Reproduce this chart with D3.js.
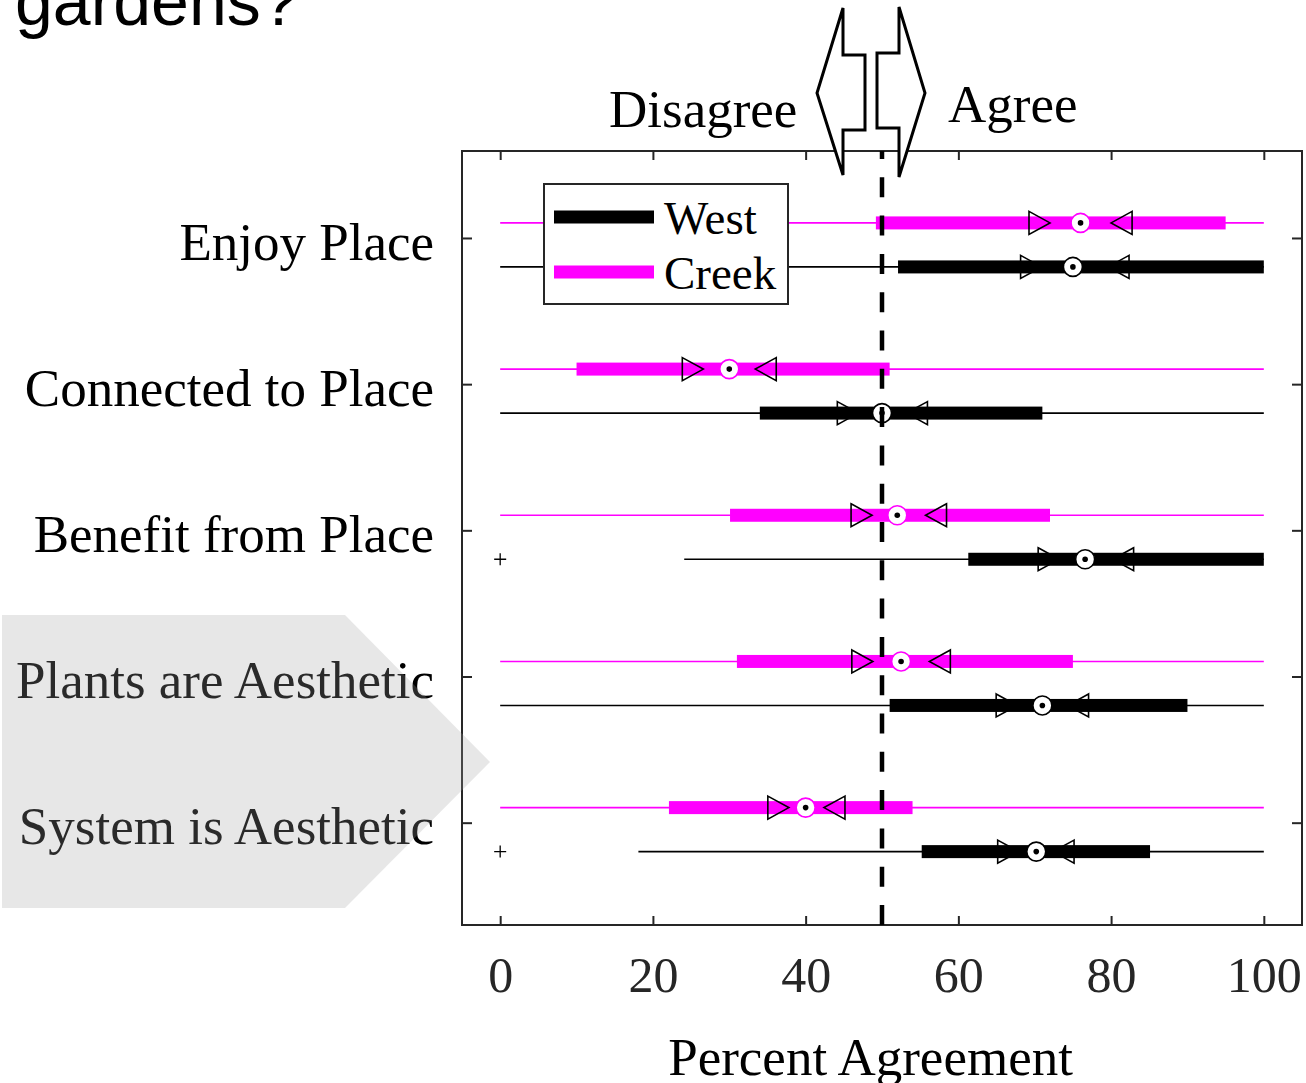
<!DOCTYPE html>
<html lang="en">
<head>
    <meta charset="UTF-8">
    <title>Percent Agreement</title>
    <script src="https://d3js.org/d3.v7.min.js"></script>
    <style>
        body { margin: 0; background: white; }
        svg { display: block; }
        .serif { font-family: "Liberation Serif", "Times New Roman", serif; }
        .axis path { display: none; }
        .axis line { stroke: #262626; stroke-width: 2; }
        .axis text { fill: #262626; font-family: "Liberation Serif", "Times New Roman", serif; }
        .ylab text { fill: #000; }
    </style>
</head>
<body>
<script>
    const width = 1306;
    const height = 1083;

    const categories = ["Enjoy Place", "Connected to Place", "Benefit from Place",
                        "Plants are Aesthetic", "System is Aesthetic"];
    const xTicks = [0, 20, 40, 60, 80, 100];

    // Creek (magenta)
    const creekLo      = [0, 0, 0, 0, 0];
    const creekQ1      = [49.2, 10, 30.1, 31, 22.1];
    const creekMedian  = [76, 30, 52, 52.5, 40];
    const creekQ3      = [95, 51, 72, 75, 54];
    const creekHi      = [100, 100, 100, 100, 100];
    const creekNotchLo = [72, 26.6, 48.7, 48.8, 37.8];
    const creekNotchHi = [80, 33.4, 55.7, 56.2, 42.4];
    const creekOut     = [[], [], [], [], []];

    // West (black)
    const westLo      = [0, 0, 24.1, 0, 18.1];
    const westQ1      = [52.1, 34, 61.3, 51, 55.2];
    const westMedian  = [75, 50, 76.6, 71, 70.2];
    const westQ3      = [100, 71, 100, 90, 85.1];
    const westHi      = [100, 100, 100, 100, 100];
    const westNotchLo = [70.9, 46.9, 73.2, 67.7, 67.9];
    const westNotchHi = [79.6, 53.2, 80.2, 74.3, 72.4];
    const westOut     = [[], [], [0], [], [0]];

    const threshold = 50;

    const series = [
        {name: "Creek", color: "#ff00ff", offset: -0.103,
         lo: creekLo, q1: creekQ1, med: creekMedian, q3: creekQ3, hi: creekHi,
         nlo: creekNotchLo, nhi: creekNotchHi, out: creekOut},
        {name: "West", color: "#000000", offset: 0.198,
         lo: westLo, q1: westQ1, med: westMedian, q3: westQ3, hi: westHi,
         nlo: westNotchLo, nhi: westNotchHi, out: westOut}
    ];

    const svg = d3.select("body").append("svg")
        .attr("width", width).attr("height", height);

    const x = d3.scaleLinear().domain([-5, 105]).range([462, 1302]);
    const y = d3.scaleLinear().domain([0.405, 5.70]).range([151, 925]);
    const [yTop, yBottom] = y.range();
    const [xLeft, xRight] = x.range();

    // title fragment, cut at the top
    svg.append("text")
        .attr("x", 15).attr("y", 25)
        .style("font-family", "'Liberation Sans', Arial, sans-serif")
        .style("font-size", "68px")
        .text("gardens?");

    // axes
    svg.append("g").attr("class", "axis")
        .attr("transform", `translate(0,${yBottom})`)
        .call(d3.axisBottom(x).tickValues(xTicks).tickSize(-9).tickPadding(31))
        .selectAll("text").style("font-size", "50px");

    svg.append("g").attr("class", "axis")
        .attr("transform", `translate(0,${yTop})`)
        .call(d3.axisTop(x).tickValues(xTicks).tickSize(-9).tickFormat(""));

    svg.append("g").attr("class", "axis ylab")
        .attr("transform", `translate(${xLeft},0)`)
        .call(d3.axisLeft(y).tickValues([1, 2, 3, 4, 5]).tickSize(-10).tickPadding(28)
            .tickFormat(d => categories[d - 1]))
        .selectAll("text").style("font-size", "53px").attr("dy", "0.4em");

    svg.append("g").attr("class", "axis")
        .attr("transform", `translate(${xRight},0)`)
        .call(d3.axisRight(y).tickValues([1, 2, 3, 4, 5]).tickSize(-10).tickFormat(""));

    svg.append("rect")
        .attr("x", xLeft).attr("y", yTop)
        .attr("width", xRight - xLeft).attr("height", yBottom - yTop)
        .attr("fill", "none").attr("stroke", "#262626").attr("stroke-width", 2);

    svg.append("text").attr("class", "serif")
        .attr("x", x(48.5)).attr("y", 1075)
        .attr("text-anchor", "middle")
        .style("font-size", "53px")
        .text("Percent Agreement");

    // boxes
    const tri = 21, triH = 11.5;
    series.forEach(s => {
        const g = svg.append("g");
        categories.forEach((c, i) => {
            const cy = y(i + 1 + s.offset);
            g.append("line")
                .attr("x1", x(s.lo[i])).attr("x2", x(s.hi[i]))
                .attr("y1", cy).attr("y2", cy)
                .attr("stroke", s.color).attr("stroke-width", 1.6);
            g.append("rect")
                .attr("x", x(s.q1[i])).attr("width", x(s.q3[i]) - x(s.q1[i]))
                .attr("y", cy - 6.5).attr("height", 13)
                .attr("fill", s.color);
            const a = x(s.nlo[i]), b = x(s.nhi[i]);
            g.append("path")
                .attr("d", `M${a - tri},${cy - triH}L${a},${cy}L${a - tri},${cy + triH}Z`)
                .attr("fill", "none").attr("stroke", "#000").attr("stroke-width", 1.6);
            g.append("path")
                .attr("d", `M${b + tri},${cy - triH}L${b},${cy}L${b + tri},${cy + triH}Z`)
                .attr("fill", "none").attr("stroke", "#000").attr("stroke-width", 1.6);
            g.append("circle")
                .attr("cx", x(s.med[i])).attr("cy", cy).attr("r", 9.5)
                .attr("fill", "white").attr("stroke", s.color).attr("stroke-width", 1.6);
            g.append("circle")
                .attr("cx", x(s.med[i])).attr("cy", cy).attr("r", 2.8)
                .attr("fill", "#000");
            s.out[i].forEach(v => {
                g.append("path")
                    .attr("d", `M${x(v) - 6},${cy}H${x(v) + 6}M${x(v)},${cy - 6}V${cy + 6}`)
                    .attr("stroke", "#000").attr("stroke-width", 1.3);
            });
        });
    });

    // 50% line
    svg.append("line")
        .attr("x1", x(threshold)).attr("x2", x(threshold))
        .attr("y1", yTop).attr("y2", yBottom)
        .attr("stroke", "#000").attr("stroke-width", 4.5)
        .attr("stroke-dasharray", "20,18.3").attr("stroke-dashoffset", 12);

    // legend
    const legend = svg.append("g");
    legend.append("rect")
        .attr("x", 544).attr("y", 184).attr("width", 244).attr("height", 120)
        .attr("fill", "white").attr("stroke", "#262626").attr("stroke-width", 2);
    [series[1], series[0]].forEach((s, i) => {
        const ly = 217 + i * 55;
        legend.append("line")
            .attr("x1", 554).attr("x2", 654).attr("y1", ly).attr("y2", ly)
            .attr("stroke", s.color).attr("stroke-width", 13);
        legend.append("text").attr("class", "serif")
            .attr("x", 664).attr("y", ly + 17)
            .style("font-size", "47px")
            .text(s.name);
    });

    svg.append("text").attr("class", "serif")
        .attr("x", 609).attr("y", 127)
        .style("font-size", "53px").text("Disagree");
    svg.append("text").attr("class", "serif")
        .attr("x", 948).attr("y", 122)
        .style("font-size", "53px").text("Agree");

    // highlight shape over the last two labels
    svg.append("path")
        .attr("d", "M2,615H345L490,762L345,908H2Z")
        .attr("fill", "rgb(162,162,162)").attr("fill-opacity", 0.26);

    // disagree / agree arrows
    const cx = x(threshold);
    const arrowL = [[cx - 39, 8], [cx - 39, 55], [cx - 17, 55], [cx - 17, 130],
                    [cx - 39, 130], [cx - 39, 175], [cx - 65, 93]];
    const arrowR = [[cx + 17, 7], [cx + 17, 53], [cx - 5, 53], [cx - 5, 128],
                    [cx + 17, 128], [cx + 17, 177], [cx + 43, 93]];
    [arrowL, arrowR].forEach(pts => {
        svg.append("path")
            .attr("d", d3.line()(pts) + "Z")
            .attr("fill", "white").attr("stroke", "#000")
            .attr("stroke-width", 3).attr("stroke-linejoin", "miter");
    });
</script>
</body>
</html>
